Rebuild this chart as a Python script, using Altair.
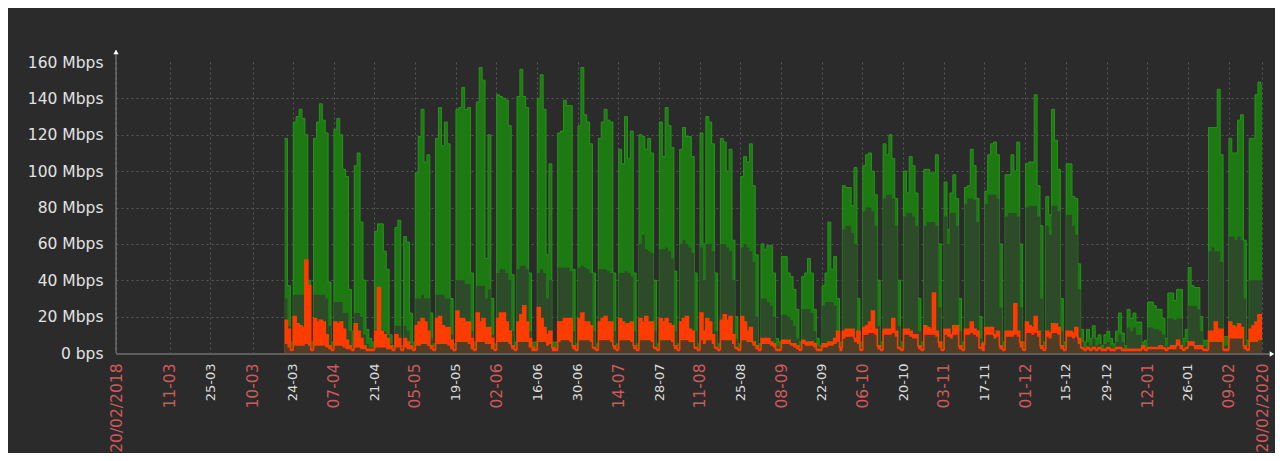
import altair as alt
import pandas as pd

# ---------------- data (daily values, Mbps) ----------------
START_DAY = 58  # first day with data, counted from 20/02 (day 0)

in_max = [
    118, 37, 6,
    127, 130, 134, 129, 120, 40, 6,
    118, 127, 137, 128, 121, 39, 6,
    123, 129, 120, 101, 97, 35, 12,
    103, 110, 72, 40, 13, 8, 6,
    67, 71, 71, 56, 46, 10, 4,
    69, 73, 4, 64, 61, 22, 6,
    99, 119, 134, 105, 109, 22, 5,
    118, 135, 114, 127, 115, 30, 5,
    134, 135, 146, 134, 135, 44, 6,
    138, 157, 150, 52, 120, 30, 5,
    142, 141, 140, 139, 125, 43, 6,
    141, 156, 141, 135, 44, 6, 6,
    140, 153, 134, 54, 104, 6, 6,
    121, 122, 139, 136, 136, 46, 5,
    125, 157, 131, 127, 115, 44, 5,
    118, 127, 134, 128, 127, 44, 5,
    112, 104, 130, 107, 122, 44, 5,
    120, 119, 112, 118, 110, 40, 5,
    127, 108, 135, 125, 113, 45, 5,
    112, 124, 119, 119, 108, 44, 5,
    121, 60, 130, 127, 115, 44, 5,
    118, 116, 100, 112, 62, 20, 5,
    97, 108, 105, 115, 92, 54, 5,
    60, 57, 59, 59, 44, 8, 6,
    53, 53, 44, 42, 35, 24, 6,
    42, 44, 52, 44, 24, 8, 4,
    37, 44, 72, 46, 53, 30, 6,
    92, 91, 91, 81, 102, 30, 6,
    103, 109, 110, 100, 87, 40, 6,
    115, 109, 120, 107, 85, 40, 6,
    100, 88, 108, 103, 88, 30, 6,
    101, 101, 99, 99, 109, 60, 6,
    94, 68, 88, 98, 85, 30, 6,
    91, 92, 112, 103, 85, 20, 6,
    89, 109, 115, 116, 109, 60, 6,
    98, 98, 109, 100, 116, 60, 6,
    104, 105, 105, 142, 92, 70, 6,
    86, 76, 134, 117, 101, 30, 6,
    104, 104, 86, 85, 49, 13, 6,
    13, 8, 15, 8, 10, 4, 10,
    12, 8, 5, 12, 22, 11, 4,
    24, 19, 22, 17, 17, 6, 7,
    28, 28, 26, 24, 24, 19, 8,
    33, 33, 29, 35, 35, 8, 13,
    47, 37, 36, 36, 20, 7, 7,
    124, 124, 124, 145, 109, 9, 9,
    118, 110, 110, 128, 131, 62, 7,
    118, 118, 142, 149, 147,
]

in_min = [
    30, 15, 3,
    32, 32, 32, 32, 30, 20, 3,
    32, 32, 32, 32, 30, 15, 3,
    28, 28, 28, 22, 22, 12, 3,
    22, 22, 20, 10, 5, 3, 3,
    13, 13, 13, 12, 10, 5, 3,
    15, 15, 3, 15, 12, 5, 3,
    30, 30, 32, 30, 30, 8, 3,
    32, 32, 32, 30, 30, 10, 3,
    40, 40, 40, 38, 38, 12, 3,
    37, 37, 37, 30, 35, 10, 3,
    44, 46, 46, 44, 40, 12, 3,
    46, 48, 48, 46, 12, 3, 3,
    44, 46, 44, 30, 40, 3, 3,
    47, 47, 47, 47, 45, 12, 3,
    47, 48, 47, 46, 44, 12, 3,
    46, 46, 46, 45, 44, 12, 3,
    44, 44, 45, 44, 42, 12, 3,
    60, 65, 57, 56, 55, 12, 3,
    57, 57, 58, 56, 52, 12, 3,
    60, 62, 60, 58, 55, 12, 3,
    58, 40, 60, 60, 56, 12, 3,
    60, 60, 58, 56, 40, 8, 3,
    58, 60, 58, 56, 50, 20, 3,
    30, 30, 28, 26, 20, 4, 3,
    21, 21, 20, 18, 15, 8, 3,
    24, 24, 24, 22, 12, 4, 3,
    26, 28, 28, 28, 26, 12, 3,
    68, 70, 70, 66, 60, 12, 3,
    78, 80, 80, 78, 70, 15, 3,
    85, 87, 87, 85, 70, 15, 3,
    75, 77, 77, 75, 70, 12, 3,
    70, 72, 72, 72, 70, 25, 3,
    75, 60, 77, 77, 70, 12, 3,
    82, 85, 85, 84, 72, 8, 3,
    82, 87, 87, 87, 85, 25, 3,
    75, 77, 77, 77, 75, 25, 3,
    80, 81, 81, 81, 75, 30, 3,
    70, 65, 81, 81, 78, 12, 3,
    76, 76, 70, 65, 35, 6, 3,
    6, 4, 8, 4, 5, 2, 5,
    6, 4, 3, 6, 10, 6, 2,
    14, 12, 14, 10, 10, 3, 3,
    14, 14, 13, 13, 12, 10, 4,
    19, 19, 18, 19, 19, 4, 6,
    26, 26, 26, 24, 12, 4, 3,
    56, 58, 56, 56, 50, 4, 4,
    64, 64, 62, 64, 62, 30, 4,
    40, 40, 40, 40, 40,
]

out_max = [
    18, 13, 2,
    20, 16, 15, 14, 51, 37, 2,
    19, 17, 18, 17, 10, 4, 2,
    17, 16, 17, 13, 7, 4, 2,
    16, 12, 8, 4, 2, 2, 2,
    12, 36, 12, 10, 8, 4, 2,
    10, 8, 2, 8, 6, 4, 2,
    15, 17, 19, 17, 12, 4, 2,
    19, 20, 15, 14, 14, 7, 2,
    23, 19, 19, 17, 17, 8, 2,
    22, 17, 19, 14, 14, 8, 2,
    19, 22, 22, 17, 12, 4, 2,
    17, 21, 26, 17, 8, 3, 2,
    25, 19, 14, 10, 12, 3, 2,
    17, 17, 19, 19, 19, 4, 2,
    19, 22, 17, 17, 15, 3, 2,
    17, 19, 20, 17, 17, 4, 2,
    19, 17, 16, 16, 17, 4, 2,
    19, 17, 20, 17, 17, 3, 2,
    19, 17, 19, 16, 15, 4, 2,
    17, 19, 20, 13, 12, 3, 2,
    22, 12, 19, 17, 10, 3, 2,
    18, 21, 18, 20, 10, 3, 2,
    20, 17, 12, 14, 6, 4, 2,
    8, 8, 8, 6, 5, 2, 2,
    7, 7, 7, 5, 5, 4, 2,
    7, 6, 6, 6, 5, 2, 2,
    5, 5, 6, 6, 8, 12, 3,
    12, 13, 13, 13, 8, 12, 2,
    14, 15, 17, 23, 13, 4, 2,
    13, 13, 13, 19, 12, 3, 2,
    13, 13, 12, 10, 10, 4, 2,
    15, 14, 13, 33, 12, 6, 2,
    13, 13, 10, 15, 15, 4, 2,
    13, 13, 17, 13, 12, 3, 5,
    14, 14, 14, 10, 12, 4, 2,
    12, 12, 12, 27, 12, 6, 2,
    17, 15, 14, 20, 12, 4, 2,
    12, 11, 16, 16, 14, 4, 2,
    12, 12, 11, 14, 8, 3, 2,
    3, 2, 3, 2, 3, 2, 2,
    3, 2, 2, 3, 3, 2, 2,
    2, 2, 2, 2, 2, 4, 2,
    3, 3, 3, 3, 4, 3, 2,
    3, 4, 4, 7, 4, 2, 3,
    6, 6, 4, 4, 4, 2, 2,
    12, 12, 17, 13, 13, 2, 2,
    17, 15, 14, 16, 14, 4, 2,
    13, 15, 17, 21, 21,
]

out_min = [
    5, 3, 1,
    4, 4, 4, 4, 5, 4, 1,
    4, 4, 4, 4, 3, 2, 1,
    4, 4, 4, 3, 2, 2, 1,
    3, 3, 2, 2, 1, 1, 1,
    3, 3, 3, 3, 2, 2, 1,
    3, 3, 1, 3, 2, 2, 1,
    4, 4, 5, 5, 4, 2, 1,
    5, 5, 5, 5, 4, 2, 1,
    6, 6, 6, 6, 5, 2, 1,
    6, 6, 6, 5, 5, 2, 1,
    6, 6, 6, 6, 5, 2, 1,
    6, 6, 6, 6, 3, 1, 1,
    6, 6, 6, 4, 5, 1, 1,
    6, 7, 7, 7, 6, 2, 1,
    7, 7, 7, 7, 6, 2, 1,
    7, 7, 7, 7, 6, 2, 1,
    7, 7, 7, 7, 6, 2, 1,
    7, 7, 7, 7, 6, 2, 1,
    7, 7, 7, 7, 6, 2, 1,
    7, 7, 7, 6, 6, 2, 1,
    7, 5, 7, 7, 5, 2, 1,
    7, 7, 7, 7, 5, 2, 1,
    7, 7, 6, 6, 4, 2, 1,
    5, 5, 5, 4, 3, 1, 1,
    5, 5, 5, 4, 3, 2, 1,
    5, 4, 4, 4, 3, 1, 1,
    3, 3, 4, 4, 5, 6, 1,
    8, 9, 9, 9, 6, 5, 1,
    10, 10, 11, 11, 10, 2, 1,
    10, 10, 10, 11, 9, 2, 1,
    10, 10, 9, 8, 8, 2, 1,
    10, 10, 10, 10, 9, 3, 1,
    10, 9, 8, 10, 10, 2, 1,
    10, 10, 11, 10, 9, 2, 1,
    10, 10, 10, 8, 9, 2, 1,
    9, 9, 9, 10, 9, 3, 1,
    11, 11, 10, 11, 9, 2, 1,
    9, 8, 11, 11, 10, 2, 1,
    9, 9, 8, 9, 5, 2, 1,
    2, 1, 2, 1, 2, 1, 1,
    2, 1, 1, 2, 2, 1, 1,
    1, 1, 1, 1, 1, 2, 1,
    2, 2, 2, 2, 2, 2, 1,
    2, 2, 2, 4, 2, 1, 2,
    4, 4, 2, 2, 2, 1, 1,
    6, 6, 6, 6, 6, 1, 1,
    8, 8, 8, 8, 8, 2, 1,
    6, 6, 6, 7, 7,
]

# axis ticks (day positions) and their labels
TICK_DAYS = [0, 18.47, 32.48, 47.03, 60.89, 74.89, 88.89, 102.89, 116.89,
             130.89, 144.89, 158.89, 172.89, 186.89, 200.89, 214.89, 228.89,
             242.89, 256.89, 270.89, 284.89, 298.89, 312.89, 326.89, 340.89,
             354.89, 368.89, 382.89, 394.4]
TICK_LABELS = ["20/02/2018", "11-03", "25-03", "10-03", "24-03", "07-04",
               "21-04", "05-05", "19-05", "02-06", "16-06", "30-06", "14-07",
               "28-07", "11-08", "25-08", "08-09", "22-09", "06-10", "20-10",
               "03-11", "17-11", "01-12", "15-12", "29-12", "12-01", "26-01",
               "09-02", "20/02/2020"]
RED_LABELS = ["20/02/2018", "11-03", "10-03", "07-04", "05-05", "02-06",
              "14-07", "11-08", "08-09", "06-10", "03-11", "01-12", "12-01",
              "09-02", "20/02/2020"]
Y_TICKS = [0, 20, 40, 60, 80, 100, 120, 140, 160]

n = len(in_max)
assert len(in_min) == n and len(out_max) == n and len(out_min) == n, (
    n, len(in_min), len(out_max), len(out_min))

days = list(range(START_DAY, START_DAY + n))
df = pd.DataFrame({"day": days, "in_max": in_max, "in_min": in_min,
                   "out_max": out_max, "out_min": out_min})
# closing row so the last step has a width
last = df.iloc[[-1]].copy()
last["day"] = START_DAY + n
df = pd.concat([df, last], ignore_index=True)

# ---------------- styling ----------------
W, H = 1146, 291
BG = "#2b2b2b"
GRID = "#585858"
FONT = "DejaVu Sans"

red_vals = [TICK_DAYS[i] for i, l in enumerate(TICK_LABELS) if l in RED_LABELS]
red_test = "indexof([" + ",".join(repr(v) for v in red_vals) + "], datum.value) >= 0"
label_expr = ("[" + ",".join("'" + l + "'" for l in TICK_LABELS) + "][indexof(["
              + ",".join(repr(v) for v in TICK_DAYS) + "], datum.value)]")

xscale = alt.Scale(domain=[0, 394.4], nice=False, zero=False)
yscale = alt.Scale(domain=[0, 160], nice=False, zero=True)

xaxis = alt.Axis(
    values=TICK_DAYS, labelExpr=label_expr, labelAngle=270,
    labelAlign="right", labelBaseline="middle", labelPadding=10,
    labelFont=FONT,
    labelFontSize={"condition": {"test": red_test, "value": 15.5}, "value": 13},
    labelColor={"condition": {"test": red_test, "value": "#cf5a5a"}, "value": "#dcdcdc"},
    labelOverlap=False, labelFlush=False, labelBound=False,
    ticks=False, domain=False, grid=True, gridColor=GRID,
    gridDash=[2, 3], gridWidth=1, title=None,
)
yaxis = alt.Axis(
    values=Y_TICKS,
    labelExpr="datum.value == 0 ? '0 bps' : datum.value + ' Mbps'",
    labelFont=FONT, labelFontSize=15.5, labelColor="#e2e2e2",
    labelPadding=13, ticks=False, domain=False, grid=True,
    gridColor={"condition": {"test": "datum.value == 0 || datum.value == 160",
                             "value": "transparent"}, "value": GRID},
    gridDash=[2, 3], gridWidth=1, title=None,
)

X = alt.X("day:Q", scale=xscale, axis=xaxis)


def Y(field):
    return alt.Y(field + ":Q", scale=yscale, axis=yaxis)


base = alt.Chart(df)

green = base.mark_area(interpolate="step-after", color="#1d7a12", clip=True).encode(x=X, y=Y("in_max"))
green_edge = base.mark_line(interpolate="step-after", color="#27931b", strokeWidth=1, clip=True).encode(x=X, y=Y("in_max"))
dark = base.mark_area(interpolate="step-after", color="#2d4b29", clip=True).encode(x=X, y=Y("in_min"))
red = base.mark_area(interpolate="step-after", color="#ff3c00", clip=True).encode(x=X, y=Y("out_max"))
brown = base.mark_area(interpolate="step-after", color="#4f3d25", clip=True).encode(x=X, y=Y("out_min"))
red_line = base.mark_line(interpolate="step-after", color="#ff3c00", strokeWidth=1.6, clip=True).encode(x=X, y=Y("out_max"))

deco = pd.DataFrame({"k": [0]})
y_axis_line = alt.Chart(deco).mark_rule(color="#8a8a8a", strokeWidth=1).encode(
    x=alt.value(0), y=alt.value(-12), y2=alt.value(H))
x_axis_line = alt.Chart(deco).mark_rule(color="#5e5e5e", strokeWidth=2).encode(
    x=alt.value(0), x2=alt.value(W + 10), y=alt.value(H + 1))
arrow_up = alt.Chart(deco).mark_point(shape="triangle-up", filled=True, color="#ffffff",
                                      size=28, opacity=1).encode(x=alt.value(0), y=alt.value(-10))
arrow_right = alt.Chart(deco).mark_point(shape="triangle-right", filled=True, color="#ffffff",
                                         size=28, opacity=1).encode(x=alt.value(W + 10), y=alt.value(H + 1))

chart = alt.layer(
    green, green_edge, dark, red, brown, red_line,
    x_axis_line, y_axis_line, arrow_up, arrow_right,
).properties(
    width=W, height=H, background=BG,
    padding={"left": 108, "top": 54, "right": 13, "bottom": 100},
    autosize=alt.AutoSizeParams(type="none"),
).configure_view(stroke=None)

chart.save("out.html", embed_options={"renderer": "svg", "actions": False})
